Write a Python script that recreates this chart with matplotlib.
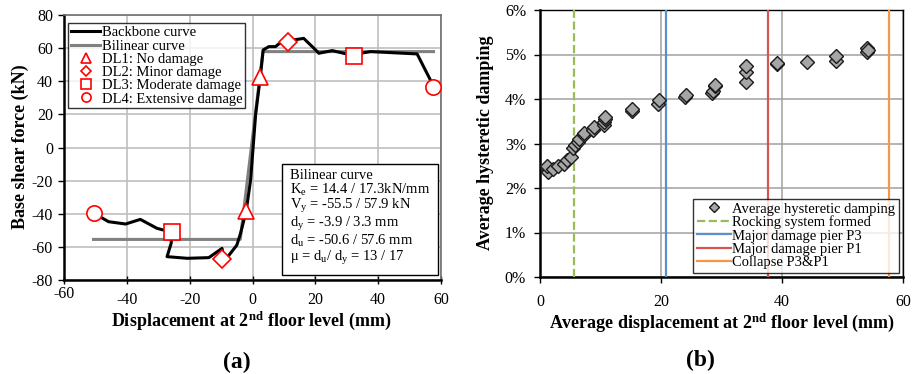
import numpy as np
import matplotlib
matplotlib.use("Agg")
import matplotlib.pyplot as plt
from matplotlib.transforms import ScaledTranslation

plt.rcParams['font.family'] = ['Liberation Serif', 'DejaVu Serif']
plt.rcParams['mathtext.fontset'] = 'custom'
plt.rcParams['mathtext.rm'] = 'Liberation Serif'
plt.rcParams['mathtext.it'] = 'Liberation Serif:italic'
plt.rcParams['mathtext.bf'] = 'Liberation Serif:bold'
plt.rcParams['axes.unicode_minus'] = False

# (a) backbone curve
backbone_d = [-50.5, -45.8, -40.4, -35.7, -30.4, -25.6, -25.9, -27.2, -20.8, -13.9,
              -9.7, -9.0, -8.1, -5.0, -3.8, -2.0, -0.6, 1.0, 2.5, 3.4, 5.2, 7.3,
              8.9, 11.6, 16.3, 20.1, 21.1, 25.4, 31.2, 37.6, 52.4, 57.5]
backbone_f = [-39.7, -44.8, -46.2, -43.4, -48.8, -51.2, -57.9, -65.9, -66.9, -66.5,
              -60.9, -68.0, -66.5, -59.0, -51.8, -38.2, -19.6, 20.0, 42.7, 58.9, 60.9, 60.9,
              63.3, 64.5, 65.9, 58.9, 56.9, 58.5, 55.9, 57.9, 56.5, 37.5]
bilinear_d = [-50.6, -3.9, 3.3, 57.6]
bilinear_f = [-55.5, -55.5, 57.9, 57.9]

dl_labels = ["DL1: No damage", "DL2: Minor damage", "DL3: Moderate damage", "DL4: Extensive damage"]
dl_markers = ["^", "D", "s", "o"]
dl_d = [[-2.0, 2.5], [-9.7, 11.4], [-25.6, 32.3], [-50.5, 57.4]]
dl_f = [[-38.2, 42.7], [-67.5, 63.5], [-51.2, 55.4], [-39.7, 36.7]]

# (b) average hysteretic damping (%)
damp_d = [1.2, 1.4, 1.2, 2.2, 3.0, 3.9, 4.5, 5.2, 5.5, 5.8, 6.3, 6.5, 7.2, 7.3,
          8.8, 8.9, 10.6, 10.6, 10.7, 10.7, 15.2, 15.2, 19.5, 19.6, 24.0, 24.1,
          28.5, 28.6, 28.9, 28.9, 34.0, 34.0, 34.0, 39.1, 39.2, 44.1, 49.0, 49.0,
          54.0, 54.1, 54.2]
damp_v = [2.44, 2.37, 2.49, 2.42, 2.50, 2.55, 2.63, 2.70, 2.89, 2.97, 3.04, 3.09, 3.19, 3.23,
          3.30, 3.38, 3.42, 3.49, 3.54, 3.60, 3.74, 3.78, 3.89, 3.98, 4.05, 4.09,
          4.13, 4.19, 4.29, 4.31, 4.39, 4.61, 4.75, 4.79, 4.82, 4.84, 4.86, 4.97,
          5.06, 5.14, 5.11]
event_labels = ["Rocking system formed", "Major damage pier P3", "Major damage pier P1", "Collapse P3&P1"]
event_d = [5.7, 20.9, 37.7, 57.7]
event_colors = ["#9BBB59", "#5B8FD0", "#D9534F", "#F79646"]
event_styles = ["--", "-", "-", "-"]

fig = plt.figure(figsize=(9.19, 3.74), dpi=100)
W, H = 919, 374

def px_axes(x0, y0, x1, y1):
    return fig.add_axes([x0 / W, 1 - y1 / H, (x1 - x0) / W, (y1 - y0) / H])

# ---------- (a) ----------
ax = px_axes(64, 15, 441, 280)
ax.plot(backbone_d, backbone_f, color="black", lw=2.2, label="Backbone curve", zorder=3)
ax.plot(bilinear_d, bilinear_f, color="#808080", lw=2.2, label="Bilinear curve", zorder=2)
for lab, m, xs, ys in zip(dl_labels, dl_markers, dl_d, dl_f):
    ms = 9 if m == "D" else 11
    ax.plot(xs, ys, ls="none", marker=m, ms=ms, mfc="white", mec="red", mew=1.2,
            label=lab, zorder=4)
ax.set_xlim(-60, 60)
ax.set_ylim(-80, 80)
ax.set_xticks(np.arange(-60, 61, 20))
ax.set_yticks(np.arange(-80, 81, 20))
ax.grid(True, color="#BFBFBF", lw=1.2)
ax.set_axisbelow(True)
ax.tick_params(axis="y", direction="out", length=4, width=1, labelsize=11.5, pad=4)
ax.tick_params(axis="x", direction="inout", length=6, width=1, labelsize=11.5, pad=6)
for s in ["left", "bottom"]:
    ax.spines[s].set_color("black")
    ax.spines[s].set_linewidth(1.8)
for s in ["top", "right"]:
    ax.spines[s].set_color("#707070")
    ax.spines[s].set_linewidth(1.2)
fig.canvas.draw()
lbl0 = ax.get_xticklabels()[0]
lbl0.set_transform(lbl0.get_transform() + ScaledTranslation(0, 6 / 100, fig.dpi_scale_trans))

leg = ax.legend(loc="upper left", bbox_to_anchor=(0.0, 0.985), fontsize=10.5, frameon=True,
                fancybox=False, edgecolor="black", handlelength=2.0, handletextpad=0.1,
                borderpad=0.2, labelspacing=0.0, borderaxespad=0.3, markerscale=0.6)
leg.get_frame().set_linewidth(1.0)

info = ("Bilinear curve\n"
        "K$_\\mathrm{e}$ = 14.4 / 17.3kN/mm\n"
        "V$_\\mathrm{y}$ = -55.5 / 57.9 kN\n"
        "d$_\\mathrm{y}$ = -3.9 / 3.3 mm\n"
        "d$_\\mathrm{u}$ = -50.6 / 57.6 mm\n"
        "\u03bc = d$_\\mathrm{u}$/ d$_\\mathrm{y}$ = 13 / 17")
ax.text(0.6, 0.05, info, transform=ax.transAxes, fontsize=10.5, va="bottom", ha="left",
        linespacing=0.98,
        bbox=dict(boxstyle="square,pad=0.55", fc="white", ec="black", lw=1.0), zorder=5)

fig.text(20 / W, 1 - 147 / H, "Base shear force (kN)", rotation=90, ha="center", va="center",
         fontsize=13, fontweight="bold")
fig.text(251 / W, 1 - 321 / H, "Displacement at 2$^{\\mathbf{nd}}$ floor level (mm)",
         ha="center", va="center", fontsize=13, fontweight="bold")
fig.text(237 / W, 1 - 362 / H, "(a)", ha="center", va="center", fontsize=17, fontweight="bold")

# ---------- (b) ----------
bx = px_axes(540, 10, 903, 277)
bx.plot(damp_d, damp_v, ls="none", marker="D", ms=7, mfc="#A6A6A6", mec="#1a1a1a", mew=1.0,
        label="Average hysteretic damping", zorder=4)
for lab, xv, c, st in zip(event_labels, event_d, event_colors, event_styles):
    bx.axvline(xv, color=c, ls=st, lw=1.6, label=lab, zorder=3)
bx.set_xlim(0, 60)
bx.set_ylim(0, 6)
bx.set_xticks([0, 20, 40, 60])
bx.set_yticks(np.arange(0, 7, 1))
bx.set_yticklabels(["%d%%" % v for v in range(7)])
bx.grid(True, color="#A0A0A0", lw=1.1)
bx.set_axisbelow(True)
bx.tick_params(axis="both", direction="out", length=4, width=1, labelsize=11.5)
bx.tick_params(axis="x", pad=8)
bx.tick_params(axis="y", pad=6)
for s in ["left", "bottom"]:
    bx.spines[s].set_linewidth(1.8)
for s in ["top", "right"]:
    bx.spines[s].set_linewidth(1.0)
leg2 = bx.legend(loc="lower right", fontsize=10.5, frameon=True, fancybox=False, edgecolor="black",
                 handlelength=2.3, handletextpad=0.1, borderpad=0.25, labelspacing=0.0,
                 borderaxespad=0.3, markerscale=0.7)
leg2.get_frame().set_linewidth(1.0)

fig.text(485 / W, 1 - 143 / H, "Average hysteretic damping", rotation=90, ha="center",
         va="center", fontsize=13, fontweight="bold")
fig.text(722 / W, 1 - 323 / H, "Average displacement at 2$^{\\mathbf{nd}}$ floor level (mm)",
         ha="center", va="center", fontsize=13, fontweight="bold")
fig.text(700 / W, 1 - 360 / H, "(b)", ha="center", va="center", fontsize=17, fontweight="bold")

fig.savefig("out.png", dpi=100)
